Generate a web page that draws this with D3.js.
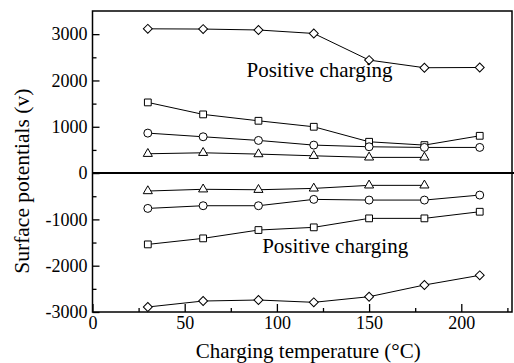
<!DOCTYPE html>
<html>
<head>
<meta charset="utf-8">
<script src="https://cdn.jsdelivr.net/npm/d3@7"></script>
</head>
<body style="margin:0;background:#fff">
<div class="graph"></div>
<script>
// charging temperatures (°C)
var temps = [30, 60, 90, 120, 150, 180, 210];

// positive charging (upper half)
var posDiamond = [3115, 3110, 3090, 3015, 2440, 2275, 2280];
var posSquare = [1526, 1267, 1129, 1000, 676, 604, 805];
var posCircle = [863, 784, 705, 604, 568, 554, 554];
var posTriangle = [417, 438, 410, 373, 339, 339];

// lower half
var negTriangle = [-388, -350, -360, -331, -265, -265];
var negCircle = [-763, -705, -705, -568, -583, -583, -475];
var negSquare = [-1540, -1410, -1230, -1172, -978, -978, -835];
var negDiamond = [-2892, -2763, -2741, -2791, -2670, -2417, -2208];

var xTicks = [0, 50, 100, 150, 200];
var xMinor = [25, 75, 125, 175, 225];
var yTicks = [-3000, -2000, -1000, 0, 1000, 2000, 3000];
var yMinor = [-2500, -1500, -500, 500, 1500, 2500];

var series = [
    { values: posDiamond, shape: "diamond" },
    { values: posSquare, shape: "square" },
    { values: posCircle, shape: "circle" },
    { values: posTriangle, shape: "triangle" },
    { values: negTriangle, shape: "triangle" },
    { values: negCircle, shape: "circle" },
    { values: negSquare, shape: "square" },
    { values: negDiamond, shape: "diamond" }
];

var serif = "Liberation Serif";

var margin = { top: 11, right: 2, bottom: 51, left: 92.5 },
    width = 514 - margin.left - margin.right,
    height = 363 - margin.top - margin.bottom;

var svg = d3.select(".graph").append("svg")
    .attr("width", 514)
    .attr("height", 363)
    .style("display", "block")
    .append("g")
    .attr("transform", `translate(${margin.left},${margin.top})`);

var x = d3.scaleLinear().domain([0, 227.5]).range([0, width]);
var y = d3.scaleLinear().domain([-3000, 3500]).range([height, 0]);

// frame
svg.append("rect")
    .attr("width", width)
    .attr("height", height)
    .attr("fill", "none")
    .attr("stroke", "#000")
    .attr("stroke-width", 1.5);

// zero line
svg.append("line")
    .attr("x1", 0).attr("x2", width + 2)
    .attr("y1", y(0)).attr("y2", y(0))
    .attr("stroke", "#000")
    .attr("stroke-width", 2);

// x axis, ticks pointing inward
svg.append("g")
    .attr("transform", `translate(0,${height})`)
    .call(d3.axisBottom(x).tickValues(xTicks).tickSize(-8).tickPadding(4).tickFormat(d => String(d)));
svg.append("g")
    .attr("transform", `translate(0,${height})`)
    .call(d3.axisBottom(x).tickValues(xMinor).tickSize(-4).tickFormat(""));

// y axis
svg.append("g")
    .call(d3.axisLeft(y).tickValues(yTicks).tickSize(-7).tickPadding(5).tickFormat(d => String(d)));
svg.append("g")
    .call(d3.axisLeft(y).tickValues(yMinor).tickSize(-4).tickFormat(""));

svg.selectAll(".domain").remove();
svg.selectAll(".tick line").attr("stroke", "#000").attr("stroke-width", 1.3);
svg.selectAll(".tick text")
    .attr("fill", "#000")
    .attr("font-size", 18)
    .attr("font-family", serif);

// lines + markers
var line = d3.line()
    .x((d, i) => x(temps[i]))
    .y(d => y(d));

var symbols = {
    diamond: d3.symbol().type(d3.symbolSquare).size(40),
    square: d3.symbol().type(d3.symbolSquare).size(46),
    circle: d3.symbol().type(d3.symbolCircle).size(50),
    triangle: d3.symbol().type(d3.symbolTriangle).size(36)
};

series.forEach(function (s) {
    svg.append("path")
        .datum(s.values)
        .attr("fill", "none")
        .attr("stroke", "#000")
        .attr("stroke-width", 1)
        .attr("d", line);
    svg.append("g").selectAll("path")
        .data(s.values)
        .join("path")
        .attr("d", symbols[s.shape])
        .attr("transform", (d, i) => `translate(${x(temps[i])},${y(d)})` + (s.shape === "diamond" ? " rotate(45)" : ""))
        .attr("fill", "#fff")
        .attr("stroke", "#000")
        .attr("stroke-width", 1);
});

// annotations
svg.append("text")
    .attr("x", x(83.5))
    .attr("y", y(2085))
    .attr("font-family", serif)
    .attr("font-size", 21)
    .text("Positive charging");
svg.append("text")
    .attr("x", x(92))
    .attr("y", y(-1735))
    .attr("font-family", serif)
    .attr("font-size", 21)
    .text("Positive charging");

// axis titles
svg.append("text")
    .attr("x", x(117))
    .attr("y", height + 46)
    .attr("text-anchor", "middle")
    .attr("font-family", serif)
    .attr("font-size", 21)
    .text("Charging temperature (°C)");
svg.append("text")
    .attr("transform", `translate(${-margin.left + 28.5},${y(-175)}) rotate(-90)`)
    .attr("text-anchor", "middle")
    .attr("font-family", serif)
    .attr("font-size", 21.5)
    .text("Surface potentials (v)");
</script>
</body>
</html>
